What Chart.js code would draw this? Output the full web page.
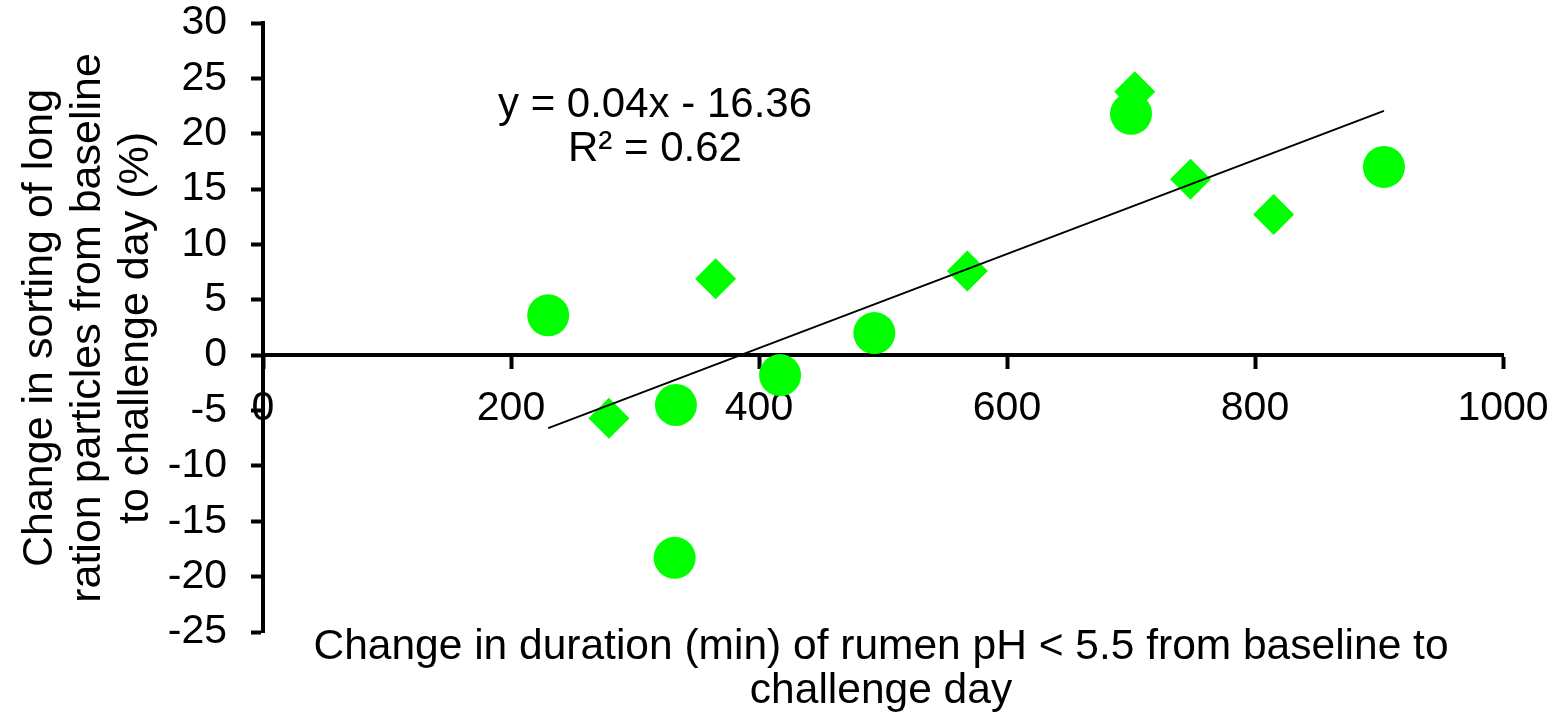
<!DOCTYPE html>
<html lang="en">
<head>
    <meta charset="UTF-8">
    <title>Sorting vs rumen pH duration</title>
    <script src="https://cdn.jsdelivr.net/npm/chart.js@4"></script>
    <style>
        body { margin: 0; background: #fff; }
        #wrap { width: 1563px; height: 712px; position: relative; }
    </style>
    <script>
// x = change in duration (min) of rumen pH < 5.5, y = change in sorting (%)
const circleX = [230, 333, 332, 417, 493, 700, 904];
const circleY = [3.6, -4.5, -18.3, -1.8, 2.0, 21.8, 17.0];

const diamondX = [279, 365, 568, 703, 748, 815];
const diamondY = [-5.7, 6.9, 7.6, 23.8, 15.9, 12.7];

// linear trend as printed on the chart
const trendSlope = 0.0425;
const trendIntercept = -16.36;
const trendLabel = ['y = 0.04x - 16.36', 'R\u00b2 = 0.62'];

const xTicks = [0, 200, 400, 600, 800, 1000];
const yTicks = [30, 25, 20, 15, 10, 5, 0, -5, -10, -15, -20, -25];

const xTitle = ['Change in duration (min) of rumen pH < 5.5 from baseline to', 'challenge day'];
const yTitle = ['Change in sorting of long', 'ration particles from baseline', 'to challenge day (%)'];

const FONT = '"Liberation Sans", Arial, sans-serif';
const GREEN = '#00ff00';

function toPoints(xs, ys) {
    return xs.map((x, i) => ({ x: x, y: ys[i] }));
}

// titles and trend text drawn on top of the canvas
const textPlugin = {
    id: 'textPlugin',
    afterDraw(chart) {
        const ctx = chart.ctx;
        ctx.save();
        ctx.fillStyle = '#000';
        ctx.textAlign = 'center';
        ctx.textBaseline = 'alphabetic';

        // equation
        ctx.font = '42px ' + FONT;
        ctx.fillText(trendLabel[0], 655, 117);
        ctx.fillText(trendLabel[1], 655, 161);

        // x title
        ctx.font = '42.5px ' + FONT;
        ctx.fillText(xTitle[0], 881, 659);
        ctx.fillText(xTitle[1], 881, 703);

        // y title (rotated)
        ctx.font = '43px ' + FONT;
        const base = [52, 100, 148];
        yTitle.forEach((t, i) => {
            ctx.save();
            ctx.translate(base[i], 328);
            ctx.rotate(-Math.PI / 2);
            ctx.fillText(t, 0, 0);
            ctx.restore();
        });
        ctx.restore();
    }
};

document.addEventListener('DOMContentLoaded', function () {
    const allX = circleX.concat(diamondX);
    const xMin = Math.min.apply(null, allX);
    const xMax = Math.max.apply(null, allX);
    const trendData = [
        { x: xMin, y: trendSlope * xMin + trendIntercept },
        { x: xMax, y: trendSlope * xMax + trendIntercept }
    ];

    const ctx = document.getElementById('myChart').getContext('2d');
    new Chart(ctx, {
        type: 'scatter',
        data: {
            datasets: [
                {
                    label: 'trend',
                    type: 'line',
                    data: trendData,
                    borderColor: '#000',
                    borderWidth: 2,
                    pointRadius: 0,
                    fill: false,
                    order: 0
                },
                {
                    label: 'circles',
                    data: toPoints(circleX, circleY),
                    pointStyle: 'circle',
                    pointRadius: 21,
                    pointBorderWidth: 0,
                    backgroundColor: GREEN,
                    borderColor: GREEN,
                    order: 1
                },
                {
                    label: 'diamonds',
                    data: toPoints(diamondX, diamondY),
                    pointStyle: 'rectRot',
                    pointRadius: 20.5,
                    pointBorderWidth: 0,
                    backgroundColor: GREEN,
                    borderColor: GREEN,
                    order: 1
                }
            ]
        },
        options: {
            responsive: true,
            maintainAspectRatio: false,
            animation: false,
            layout: { padding: { left: 0, top: 23, right: 60, bottom: 80 } },
            plugins: {
                legend: { display: false },
                tooltip: { enabled: false }
            },
            scales: {
                x: {
                    type: 'linear',
                    position: { y: 0 },
                    min: 0,
                    max: 1000,
                    afterBuildTicks: function (scale) {
                        scale.ticks = xTicks.map(v => ({ value: v }));
                    },
                    afterFit: function (scale) {
                        scale.paddingLeft = 0;
                        scale.paddingRight = 0;
                    },
                    border: { display: true, color: '#000', width: 4 },
                    grid: {
                        display: true,
                        drawOnChartArea: false,
                        drawTicks: true,
                        tickLength: 12,
                        tickWidth: 4,
                        tickColor: '#000'
                    },
                    ticks: {
                        color: '#000',
                        font: { family: FONT, size: 41 },
                        padding: 17,
                        maxRotation: 0,
                        autoSkip: false,
                        callback: v => String(v)
                    }
                },
                y: {
                    type: 'linear',
                    position: 'left',
                    min: -25,
                    max: 30,
                    afterBuildTicks: function (scale) {
                        scale.ticks = yTicks.map(v => ({ value: v }));
                    },
                    afterFit: function (scale) {
                        scale.width = 263;
                        scale.paddingTop = 0;
                        scale.paddingBottom = 0;
                    },
                    border: { display: true, color: '#000', width: 4 },
                    grid: {
                        display: true,
                        drawOnChartArea: false,
                        drawTicks: true,
                        tickLength: 12,
                        tickWidth: 4,
                        tickColor: '#000'
                    },
                    ticks: {
                        color: '#000',
                        font: { family: FONT, size: 41 },
                        padding: 24,
                        autoSkip: false,
                        callback: v => String(v)
                    }
                }
            }
        },
        plugins: [textPlugin]
    });
});
    </script>
</head>
<body>
    <div id="wrap"><canvas id="myChart"></canvas></div>
</body>
</html>
